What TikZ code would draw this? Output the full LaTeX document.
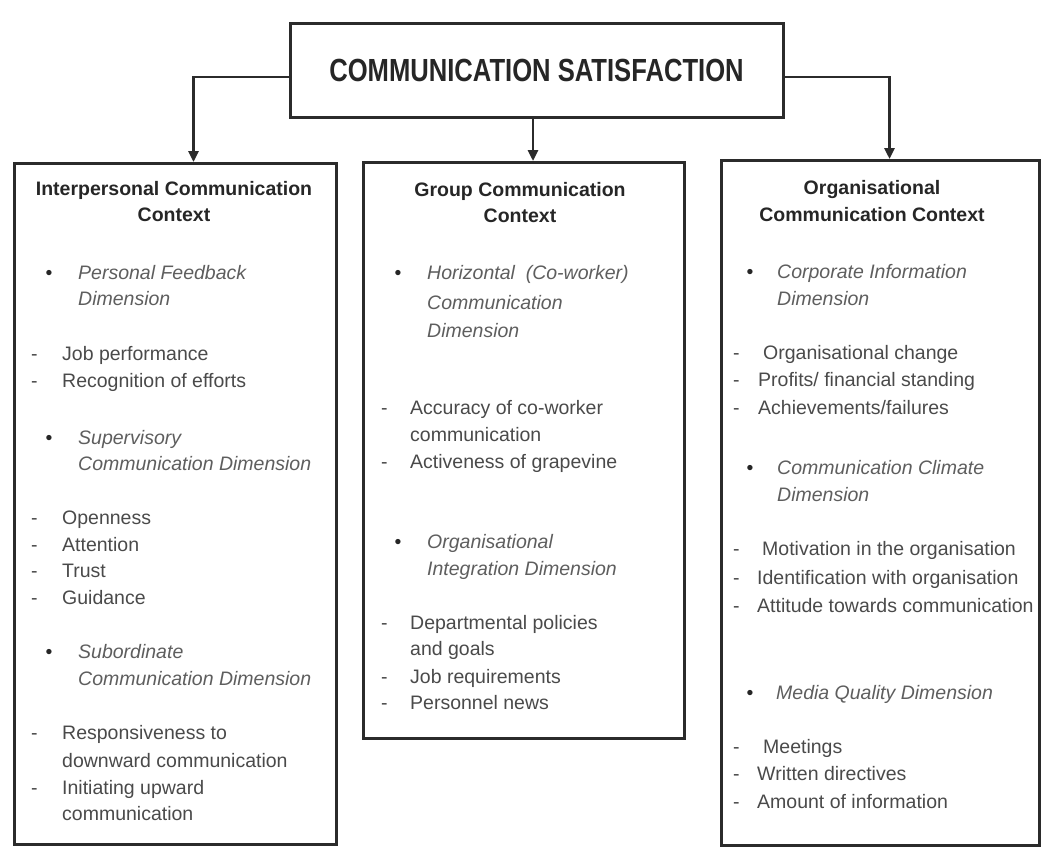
\documentclass[tikz,border=0pt]{standalone}
\usepackage{fontspec}
\setmainfont{Liberation Sans}
\usetikzlibrary{arrows.meta}
\definecolor{linec}{HTML}{2B2B2B}
\definecolor{headc}{HTML}{262626}
\definecolor{itemc}{HTML}{4A4A4A}
\definecolor{itc}{HTML}{5E5E5E}
\tikzset{
  box/.style={draw=linec, line width=3pt, fill=white, inner sep=0pt, anchor=north west},
  conn/.style={draw=linec, line width=2.6pt, -{Triangle[length=11pt,width=10pt]}},
  head/.style={font=\bfseries\fontsize{19.5}{27}\selectfont, text=headc, anchor=base, inner sep=0pt},
  item/.style={font=\fontsize{19.5}{27}\selectfont, text=itemc, anchor=base west, inner sep=0pt},
  dim/.style={font=\itshape\fontsize{19.5}{27}\selectfont, text=itc, anchor=base west, inner sep=0pt},
  bul/.style={font=\fontsize{19.5}{27}\selectfont, text=headc, anchor=base, inner sep=0pt},
  dsh/.style={font=\fontsize{19.5}{27}\selectfont, text=itemc, anchor=base west, inner sep=0pt},
}
\begin{document}
\begin{tikzpicture}[x=1pt,y=-1pt]
\useasboundingbox (0,0) rectangle (1058,859);
\fill[white] (0,0) rectangle (1058,859);

% top box
\node[draw=linec, line width=3pt, minimum width=493pt, minimum height=93pt, inner sep=0pt] (T) at (536.5,70.5)
  {\scalebox{0.8}[1]{\bfseries\fontsize{32}{32}\selectfont\color{headc}COMMUNICATION SATISFACTION}};

% context boxes
\node[box, minimum width=322pt, minimum height=681pt] (B1) at (13,162) {};
\node[box, minimum width=321pt, minimum height=576pt] (B2) at (362,161) {};
\node[box, minimum width=318pt, minimum height=685pt] (B3) at (720,159) {};

% connectors
\draw[conn] ([yshift=-6.5pt]T.west) -| ([xshift=18pt]B1.north);
\draw[conn] ([xshift=-3.5pt]T.south) -- ([xshift=-3.5pt]T.south |- B2.north);
\draw[conn] ([yshift=-6.5pt]T.east) -| ([xshift=9pt]B3.north);

% ---------- left box ----------
\node[head] (h1a) at (174,195) {Interpersonal Communication};
\node[head] (h1b) at (174,221) {Context};
\node[bul] (b11) at (49,279) {•};
\node[dim] (d11a) at (78,279) {Personal Feedback};
\node[dim] (d11b) at (78,305) {Dimension};
\node[dsh] (s11) at (31,360) {-};
\node[item] (i11) at (62,360) {Job performance};
\node[dsh] (s12) at (31,387) {-};
\node[item] (i12) at (62,387) {Recognition of efforts};
\node[bul] (b12) at (49,444) {•};
\node[dim] (d12a) at (78,444) {Supervisory};
\node[dim] (d12b) at (78,470) {Communication Dimension};
\node[dsh] (s13) at (31,524) {-};
\node[item] (i13) at (62,524) {Openness};
\node[dsh] (s14) at (31,551) {-};
\node[item] (i14) at (62,551) {Attention};
\node[dsh] (s15) at (31,577) {-};
\node[item] (i15) at (62,577) {Trust};
\node[dsh] (s16) at (31,604) {-};
\node[item] (i16) at (62,604) {Guidance};
\node[bul] (b13) at (49,658) {•};
\node[dim] (d13a) at (78,658) {Subordinate};
\node[dim] (d13b) at (78,685) {Communication Dimension};
\node[dsh] (s17) at (31,739) {-};
\node[item] (i17a) at (62,739) {Responsiveness to};
\node[item] (i17b) at (62,767) {downward communication};
\node[dsh] (s18) at (31,794) {-};
\node[item] (i18a) at (62,794) {Initiating upward};
\node[item] (i18b) at (62,820) {communication};

% ---------- middle box ----------
\node[head] (h2a) at (520,196) {Group Communication};
\node[head] (h2b) at (520,222) {Context};
\node[bul] (b21) at (398,279) {•};
\node[dim] (d21a) at (427,279) {Horizontal\ \ (Co-worker)};
\node[dim] (d21b) at (427,309) {Communication};
\node[dim] (d21c) at (427,337) {Dimension};
\node[dsh] (s21) at (381,414) {-};
\node[item] (i21a) at (410,414) {Accuracy of co-worker};
\node[item] (i21b) at (410,441) {communication};
\node[dsh] (s22) at (381,468) {-};
\node[item] (i22) at (410,468) {Activeness of grapevine};
\node[bul] (b22) at (398,548) {•};
\node[dim] (d22a) at (427,548) {Organisational};
\node[dim] (d22b) at (427,575) {Integration Dimension};
\node[dsh] (s23) at (381,629) {-};
\node[item] (i23a) at (410,629) {Departmental policies};
\node[item] (i23b) at (410,655) {and goals};
\node[dsh] (s24) at (381,683) {-};
\node[item] (i24) at (410,683) {Job requirements};
\node[dsh] (s25) at (381,709) {-};
\node[item] (i25) at (410,709) {Personnel news};

% ---------- right box ----------
\node[head] (h3a) at (872,194) {Organisational};
\node[head] (h3b) at (872,221) {Communication Context};
\node[bul] (b31) at (750,278) {•};
\node[dim] (d31a) at (777,278) {Corporate Information};
\node[dim] (d31b) at (777,305) {Dimension};
\node[dsh] (s31) at (733,359) {-};
\node[item] (i31) at (763,359) {Organisational change};
\node[dsh] (s32) at (733,386) {-};
\node[item] (i32) at (758,386) {Profits/ financial standing};
\node[dsh] (s33) at (733,414) {-};
\node[item] (i33) at (758,414) {Achievements/failures};
\node[bul] (b32) at (750,474) {•};
\node[dim] (d32a) at (777,474) {Communication Climate};
\node[dim] (d32b) at (777,501) {Dimension};
\node[dsh] (s34) at (733,555) {-};
\node[item] (i34) at (762,555) {Motivation in the organisation};
\node[dsh] (s35) at (733,584) {-};
\node[item] (i35) at (757,584) {Identification with organisation};
\node[dsh] (s36) at (733,612) {-};
\node[item] (i36) at (757,612) {Attitude towards communication};
\node[bul] (b33) at (750,699) {•};
\node[dim] (d33) at (776,699) {Media Quality Dimension};
\node[dsh] (s37) at (733,753) {-};
\node[item] (i37) at (763,753) {Meetings};
\node[dsh] (s38) at (733,780) {-};
\node[item] (i38) at (757,780) {Written directives};
\node[dsh] (s39) at (733,808) {-};
\node[item] (i39) at (757,808) {Amount of information};
\end{tikzpicture}
\end{document}
